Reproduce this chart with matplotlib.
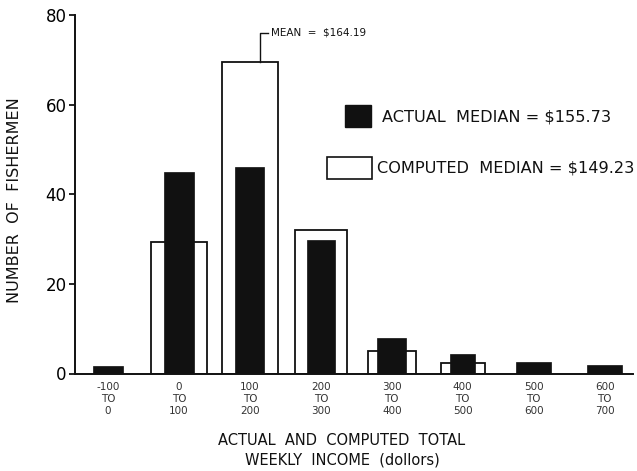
import matplotlib
matplotlib.use("Agg")
import matplotlib.pyplot as plt
from matplotlib.patches import Rectangle

# ---- data ----
categories = ["-100\nTO\n0", "0\nTO\n100", "100\nTO\n200", "200\nTO\n300",
              "300\nTO\n400", "400\nTO\n500", "500\nTO\n600", "600\nTO\n700"]
bin_lows = [-100, 0, 100, 200, 300, 400, 500, 600]
actual = [1.7, 45, 46, 29.8, 8, 4.3, 2.6, 1.8]
computed = [0, 29.3, 69.5, 32, 5.1, 2.4, 0, 0]
mean_income = 164.19
actual_median_label = "ACTUAL  MEDIAN = $155.73"
computed_median_label = "COMPUTED  MEDIAN = $149.23"
mean_label = "MEAN  =  $164.19"
yticks = [0, 20, 40, 60, 80]

# ---- style ----
actual_widths = [0.42, 0.42, 0.41, 0.40, 0.41, 0.36, 0.50, 0.49]
computed_widths = [0.78, 0.80, 0.79, 0.73, 0.68, 0.62, 0.6, 0.6]
ink = "#111111"

fig = plt.figure(figsize=(6.37, 4.71), dpi=100)
ax = fig.add_axes([75/637, 1-373.5/471, (633-75)/637, (373.5-15)/471])

x = list(range(len(categories)))
for xi, c, w in zip(x, computed, computed_widths):
    if c > 0:
        ax.bar(xi, c, width=w, facecolor="white", edgecolor=ink, linewidth=1.3, zorder=2)
ax.bar(x, actual, width=actual_widths, color=ink, edgecolor=ink, linewidth=0.5, zorder=3)

ax.set_xlim(-0.465, 7.40)
ax.set_ylim(0, 80)
ax.set_yticks(yticks)
ax.set_yticklabels([str(v) for v in yticks], fontsize=12)
ax.set_xticks(x)
ax.set_xticklabels(categories, fontsize=7.5, linespacing=1.25, color="#333333")
ax.tick_params(axis="x", length=0, pad=6)
ax.tick_params(axis="y", direction="out", length=4, width=1.2, pad=2)
for s in ["top", "right"]:
    ax.spines[s].set_visible(False)
for s in ["left", "bottom"]:
    ax.spines[s].set_linewidth(1.4)
    ax.spines[s].set_color(ink)
ax.spines["bottom"].set_zorder(4)

# mean bracket
mx = 2 + (mean_income - bin_lows[2]) / 100 - 0.5
top = computed[2]
ax.plot([mx, mx, mx + 0.11], [top, 76, 76], color=ink, lw=1.0, clip_on=False, zorder=4)
ax.text(mx + 0.15, 76, mean_label, fontsize=7.5, va="center", ha="left", color=ink)

# legend-like annotations
fig.patches.append(Rectangle((345/637, 1-127/471), 26/637, 22/471,
                             transform=fig.transFigure, facecolor=ink, edgecolor=ink))
fig.text(382/637, 1-117/471, actual_median_label, fontsize=11.6, va="center", ha="left", color=ink)
fig.patches.append(Rectangle((327/637, 1-179/471), 45/637, 22/471,
                             transform=fig.transFigure, facecolor="white", edgecolor=ink, linewidth=1.2))
fig.text(377/637, 1-168/471, computed_median_label, fontsize=11.6, va="center", ha="left", color=ink)

# axis labels
fig.text(342/637, 1-450.5/471, "ACTUAL  AND  COMPUTED  TOTAL\nWEEKLY  INCOME  (dollors)",
         fontsize=10.5, ha="center", va="center", linespacing=1.4, color=ink)
fig.text(15/637, 1-200/471, "NUMBER  OF  FISHERMEN", rotation=90, fontsize=11.5,
         ha="center", va="center", color=ink)

fig.savefig("out.png", dpi=100)
